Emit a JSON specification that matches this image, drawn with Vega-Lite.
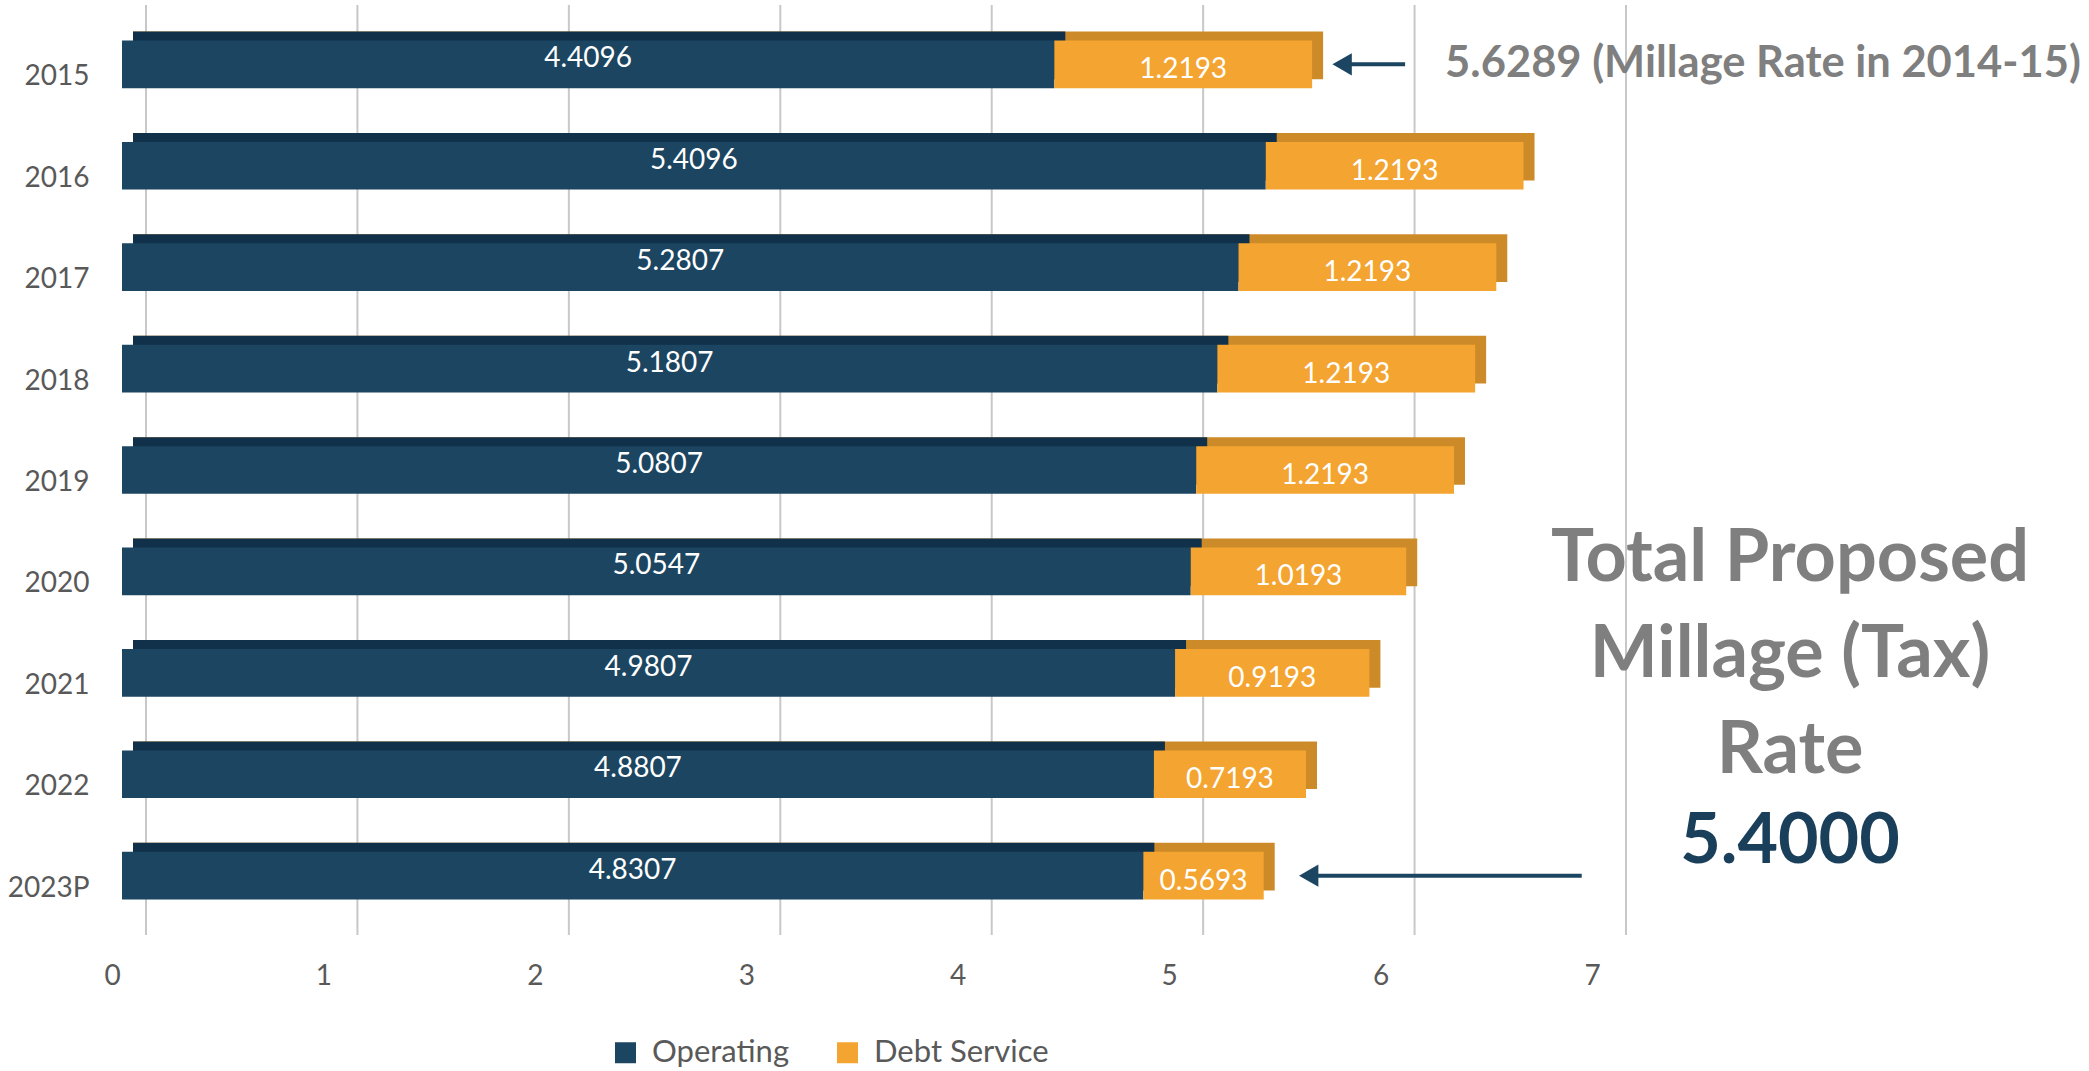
{
  "$schema": "https://vega.github.io/schema/vega-lite/v6.json",
  "autosize": "none",
  "width": 1480,
  "height": 930,
  "padding": {"left": 122, "top": 5, "right": 487, "bottom": 136},
  "background": "white",
  "config": {
    "view": {"stroke": null},
    "font": "Lato",
    "axisX": {"domain": false, "ticks": false, "grid": false, "labelFontSize": 28, "labelColor": "#595959", "labelPadding": 27, "labelOffset": -10, "labelFlush": false, "labelFont": "Lato"},
    "axisY": {"domain": false, "ticks": false, "grid": false, "labelFontSize": 28, "labelColor": "#595959", "labelPadding": 33, "labelOffset": 13, "labelFont": "Lato"}
  },
  "datasets": {
    "rates": [
      {"year": "2015", "type": "Operating", "value": 4.4096},
      {"year": "2015", "type": "Debt Service", "value": 1.2193},
      {"year": "2016", "type": "Operating", "value": 5.4096},
      {"year": "2016", "type": "Debt Service", "value": 1.2193},
      {"year": "2017", "type": "Operating", "value": 5.2807},
      {"year": "2017", "type": "Debt Service", "value": 1.2193},
      {"year": "2018", "type": "Operating", "value": 5.1807},
      {"year": "2018", "type": "Debt Service", "value": 1.2193},
      {"year": "2019", "type": "Operating", "value": 5.0807},
      {"year": "2019", "type": "Debt Service", "value": 1.2193},
      {"year": "2020", "type": "Operating", "value": 5.0547},
      {"year": "2020", "type": "Debt Service", "value": 1.0193},
      {"year": "2021", "type": "Operating", "value": 4.9807},
      {"year": "2021", "type": "Debt Service", "value": 0.9193},
      {"year": "2022", "type": "Operating", "value": 4.8807},
      {"year": "2022", "type": "Debt Service", "value": 0.7193},
      {"year": "2023P", "type": "Operating", "value": 4.8307},
      {"year": "2023P", "type": "Debt Service", "value": 0.5693}
    ]
  },
  "layer": [
    {
      "data": {"values": [{"tick": 0}, {"tick": 1}, {"tick": 2}, {"tick": 3}, {"tick": 4}, {"tick": 5}, {"tick": 6}, {"tick": 7}]},
      "mark": {"type": "rule", "color": "#c8c8c8", "strokeWidth": 2, "xOffset": 24},
      "encoding": {
        "x": {
          "field": "tick", "type": "quantitative", "title": null,
          "scale": {"domain": [0, 7], "nice": false, "zero": true},
          "axis": {"values": [0, 1, 2, 3, 4, 5, 6, 7], "format": "d"}
        }
      }
    },
    {
      "data": {"name": "rates"},
      "mark": {"type": "bar", "color": "#cc8b28", "xOffset": 11, "x2Offset": 11, "yOffset": -9, "y2Offset": -9},
      "encoding": {
        "y": {"field": "year", "type": "nominal", "title": null, "scale": {"domain": ["2015", "2016", "2017", "2018", "2019", "2020", "2021", "2022", "2023P"], "paddingInner": 0.53, "paddingOuter": 0.35}},
        "x": {"field": "value", "aggregate": "sum", "type": "quantitative", "title": null},
        "x2": {"datum": 0}
      }
    },
    {
      "data": {"name": "rates"},
      "transform": [{"filter": {"field": "type", "equal": "Operating"}}],
      "mark": {"type": "bar", "color": "#11304a", "xOffset": 11, "x2Offset": 11, "yOffset": -9, "y2Offset": -9},
      "encoding": {
        "y": {"field": "year", "type": "nominal", "title": null},
        "x": {"field": "value", "type": "quantitative", "title": null},
        "x2": {"datum": 0}
      }
    },
    {
      "data": {"name": "rates"},
      "mark": {"type": "bar"},
      "encoding": {
        "y": {"field": "year", "type": "nominal", "title": null},
        "x": {"field": "value", "type": "quantitative", "stack": "zero", "title": null},
        "color": {"field": "type", "type": "nominal", "title": null,
          "scale": {"domain": ["Operating", "Debt Service"], "range": ["#1b4560", "#f4a430"]},
          "legend": {"orient": "none", "legendX": 488, "legendY": 1032, "direction": "horizontal", "title": null, "symbolType": "square", "symbolSize": 441, "symbolStrokeWidth": 0, "symbolOpacity": 1, "labelFontSize": 31, "labelColor": "#595959", "labelFont": "Lato", "labelLimit": 400, "columnPadding": 42, "labelOffset": 11, "padding": 0}},
        "order": {"field": "type", "sort": "descending"}
      }
    },
    {
      "data": {"name": "rates"},
      "transform": [
        {"stack": "value", "groupby": ["year"], "sort": [{"field": "type", "order": "descending"}], "as": ["x0", "x1"]},
        {"fold": ["x0", "x1"], "as": ["edge", "pos"]},
        {"filter": {"field": "type", "equal": "Operating"}}
      ],
      "mark": {"type": "text", "color": "white", "fontSize": 28, "baseline": "middle", "align": "center", "dy": -5},
      "encoding": {
        "y": {"field": "year", "type": "nominal", "title": null},
        "x": {"field": "pos", "aggregate": "mean", "type": "quantitative", "title": null},
        "text": {"field": "value", "type": "quantitative", "format": ".4f"}
      }
    },
    {
      "data": {"name": "rates"},
      "transform": [
        {"stack": "value", "groupby": ["year"], "sort": [{"field": "type", "order": "descending"}], "as": ["x0", "x1"]},
        {"fold": ["x0", "x1"], "as": ["edge", "pos"]},
        {"filter": {"field": "type", "equal": "Debt Service"}}
      ],
      "mark": {"type": "text", "color": "white", "fontSize": 28, "baseline": "middle", "align": "center", "dy": 6},
      "encoding": {
        "y": {"field": "year", "type": "nominal", "title": null},
        "x": {"field": "pos", "aggregate": "mean", "type": "quantitative", "title": null},
        "text": {"field": "value", "type": "quantitative", "format": ".4f"}
      }
    },
    {
      "data": {"values": [{"year": "2015", "total": 5.6289}]},
      "mark": {"type": "rule", "color": "#1b4560", "strokeWidth": 4, "xOffset": 32, "x2Offset": 93},
      "encoding": {
        "y": {"field": "year", "type": "nominal", "title": null},
        "x": {"field": "total", "type": "quantitative", "title": null},
        "x2": {"field": "total"}
      }
    },
    {
      "data": {"values": [{"year": "2015", "total": 5.6289}]},
      "mark": {"type": "point", "shape": "triangle-left", "filled": true, "size": 500, "opacity": 1, "color": "#1b4560", "xOffset": 30},
      "encoding": {
        "y": {"field": "year", "type": "nominal", "title": null},
        "x": {"field": "total", "type": "quantitative", "title": null}
      }
    },
    {
      "data": {"values": [{"year": "2015", "total": 5.6289, "label": "5.6289 (Millage Rate in 2014-15)"}]},
      "mark": {"type": "text", "align": "left", "baseline": "middle", "dx": 133, "fontSize": 43.5, "fontWeight": "bold", "color": "#7f7f7f"},
      "encoding": {
        "y": {"field": "year", "type": "nominal", "title": null},
        "x": {"field": "total", "type": "quantitative", "title": null},
        "text": {"field": "label", "type": "nominal"}
      }
    },
    {
      "data": {"values": [{"year": "2023P", "total": 5.4}]},
      "mark": {"type": "rule", "color": "#1b4560", "strokeWidth": 4, "xOffset": 47, "x2Offset": 318},
      "encoding": {
        "y": {"field": "year", "type": "nominal", "title": null},
        "x": {"field": "total", "type": "quantitative", "title": null},
        "x2": {"field": "total"}
      }
    },
    {
      "data": {"values": [{"year": "2023P", "total": 5.4}]},
      "mark": {"type": "point", "shape": "triangle-left", "filled": true, "size": 500, "opacity": 1, "color": "#1b4560", "xOffset": 45},
      "encoding": {
        "y": {"field": "year", "type": "nominal", "title": null},
        "x": {"field": "total", "type": "quantitative", "title": null}
      }
    },
    {
      "data": {"values": [{"year": "2021", "label": "Total Proposed|Millage (Tax)|Rate"}]},
      "mark": {"type": "text", "align": "center", "baseline": "middle", "lineBreak": "|", "lineHeight": 96, "dx": 188, "dy": -114, "fontSize": 72, "fontWeight": "bold", "color": "#7f7f7f"},
      "encoding": {
        "y": {"field": "year", "type": "nominal", "title": null},
        "x": {"datum": 7, "type": "quantitative", "title": null},
        "text": {"field": "label", "type": "nominal"}
      }
    },
    {
      "data": {"values": [{"year": "2023P", "label": "5.4000"}]},
      "mark": {"type": "text", "align": "center", "baseline": "middle", "dx": 188, "dy": -34, "fontSize": 70, "fontWeight": "bold", "color": "#1a3f5a"},
      "encoding": {
        "y": {"field": "year", "type": "nominal", "title": null},
        "x": {"datum": 7, "type": "quantitative", "title": null},
        "text": {"field": "label", "type": "nominal"}
      }
    }
  ]
}
